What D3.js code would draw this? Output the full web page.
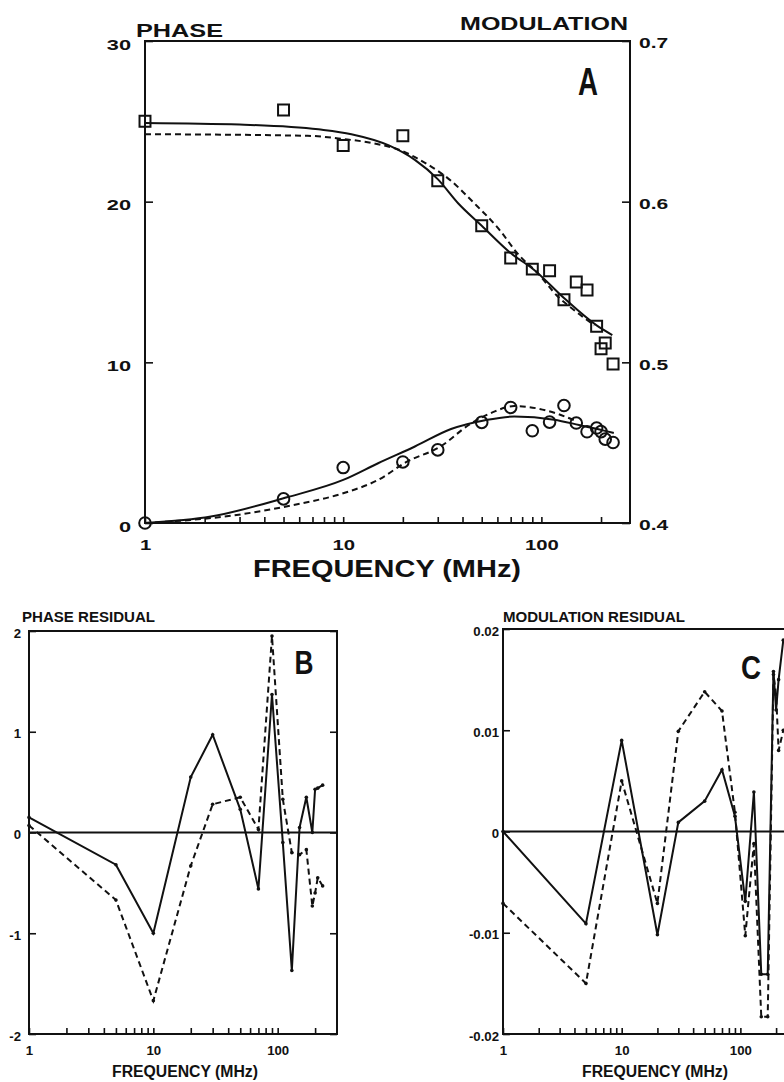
<!DOCTYPE html>
<html>
<head>
<meta charset="utf-8">
<script src="https://cdn.jsdelivr.net/npm/d3@7/dist/d3.min.js"></script>
<style>
  body { margin: 0; background: #fff; }
  svg text { font-family: "Liberation Sans", Arial, sans-serif; font-weight: bold; fill: #111; }
</style>
</head>
<body>
<div id="chart"></div>
<script>
// modulation frequencies (MHz) shared by every panel
var freq = [1, 5, 10, 20, 30, 50, 70, 90, 110, 130, 150, 170, 190, 200, 210, 230];

// panel A measured points
var phaseData = [25.0, 25.7, 23.5, 24.1, 21.3, 18.5, 16.5, 15.8, 15.7, 13.9, 15.0, 14.5, 12.25, 10.85, 11.2, 9.9];
var modData = [0.400, 0.415, 0.4345, 0.438, 0.4455, 0.4626, 0.4719, 0.4574, 0.4628, 0.4731, 0.4622, 0.4568, 0.4591, 0.4569, 0.4522, 0.4501];

// panel A fitted curves
var phaseFitF = [1, 3, 7.5, 11, 17, 23, 30, 38, 50, 70, 92, 130, 190, 228];
var phaseFit = [24.9, 24.8, 24.5, 24.2, 23.5, 22.6, 21.4, 19.9, 18.5, 16.8, 15.75, 14.0, 12.3, 11.7];
var phaseFit2F = [1, 6.6, 10, 14, 19.4, 26, 35, 45, 60, 78, 95, 121, 148, 185];
var phaseFit2 = [24.2, 24.1, 23.9, 23.65, 23.2, 22.4, 21.3, 20.0, 18.4, 16.6, 15.6, 14.1, 13.2, 12.3];
var modFitF = [1, 2.15, 5.2, 10, 15, 23, 35, 52, 73, 116, 155, 207, 232];
var modFit = [0.400, 0.404, 0.416, 0.4268, 0.4372, 0.4476, 0.4585, 0.4640, 0.4663, 0.4643, 0.4610, 0.4575, 0.4560];
var modFit2F = [1, 2.9, 5.6, 10, 15, 21, 31, 43, 57, 73, 98, 120, 150];
var modFit2 = [0.400, 0.405, 0.4112, 0.4185, 0.4268, 0.4382, 0.4476, 0.4610, 0.4690, 0.4728, 0.4710, 0.4680, 0.4635];

// panel B / C residuals (solid and dashed fits)
var phaseRes = [0.15, -0.32, -1.0, 0.55, 0.97, 0.23, -0.56, 1.37, -0.1, -1.37, 0.05, 0.35, 0.0, 0.43, 0.44, 0.47];
var phaseRes2 = [0.07, -0.67, -1.67, -0.33, 0.28, 0.35, 0.03, 1.95, 0.33, -0.2, -0.22, -0.17, -0.73, -0.6, -0.45, -0.53];
var modRes = [0, -0.0091, 0.0090, -0.0102, 0.0009, 0.0030, 0.0061, 0.0015, -0.0069, 0.0039, -0.0141, -0.0141, 0.0158, 0.0120, 0.0150, 0.0189];
var modRes2 = [-0.0071, -0.0150, 0.0050, -0.0071, 0.0099, 0.0138, 0.0119, 0.0019, -0.0103, -0.0012, -0.0183, -0.0183, 0.0155, 0.0135, 0.0080, 0.0100];

// tick labels
var xTicks = [1, 2, 3, 4, 5, 6, 7, 8, 9, 10, 20, 30, 40, 50, 60, 70, 80, 90, 100, 200];
var xLabels = [1, 10, 100];
var phaseTicks = [0, 10, 20, 30];
var modTicks = [0.4, 0.5, 0.6, 0.7];
var phaseResTicks = [-2, -1, 0, 1, 2];
var phaseResLabels = ["-2", "-1", "0", "1", "2"];
var modResTicks = [-0.02, -0.01, 0, 0.01, 0.02];
var modResLabels = ["-0.02", "-0.01", "0", "0.01", "0.02"];

var INK = "#111";

function init() {

    var svg = d3.select("#chart")
                .append("svg")
                .attr("width", 784)
                .attr("height", 1082);

    // stretch text horizontally, the original lettering is an extended face
    function widen(sel, k) {
        sel.each(function() {
            var w = this.getComputedTextLength();
            if (w > 0) {
                this.setAttribute("textLength", w * k);
                this.setAttribute("lengthAdjust", "spacingAndGlyphs");
            }
        });
    }

    function label(x, y, txt, size, len, anchor) {
        var t = svg.append("text")
            .attr("x", x)
            .attr("y", y)
            .attr("font-size", size)
            .attr("text-anchor", anchor || "start")
            .text(txt);
        if (len) t.attr("textLength", len).attr("lengthAdjust", "spacingAndGlyphs");
        return t;
    }

    function styleAxis(g, size, k) {
        g.select(".domain").remove();
        g.attr("font-family", null).attr("font-size", size);
        g.selectAll(".tick line").attr("stroke", INK).attr("stroke-width", 1.6);
        g.selectAll(".tick text").attr("fill", INK);
        widen(g.selectAll(".tick text"), k);
    }

    function box(x, y) {
        svg.append("rect")
            .attr("x", x.range()[0])
            .attr("y", y.range()[1])
            .attr("width", x.range()[1] - x.range()[0])
            .attr("height", y.range()[0] - y.range()[1])
            .attr("fill", "none")
            .attr("stroke", INK)
            .attr("stroke-width", 2);
    }

    function curve(x, y, fs, vs, dashed) {
        var pts = fs.map(function(f, i) { return [f, vs[i]]; });
        var line = d3.line()
            .x(function(d) { return x(d[0]); })
            .y(function(d) { return y(d[1]); })
            .curve(d3.curveMonotoneX);
        svg.append("path")
            .datum(pts)
            .attr("d", line)
            .attr("fill", "none")
            .attr("stroke", INK)
            .attr("stroke-width", 2)
            .attr("stroke-dasharray", dashed ? "6,4" : null);
    }

    function xAxis(x, y, pad, size, k) {
        var g = svg.append("g")
            .attr("transform", "translate(0," + y.range()[0] + ")")
            .call(d3.axisBottom(x)
                .tickValues(xTicks)
                .tickSize(-6)
                .tickSizeOuter(0)
                .tickPadding(pad)
                .tickFormat(function(d) { return xLabels.indexOf(d) >= 0 ? d : ""; }));
        styleAxis(g, size, k);
    }

    // ---------- Panel A ----------
    var xA = d3.scaleLog().domain([1, 280]).range([145, 630]);
    var yA = d3.scaleLinear().domain([0, 30]).range([523, 41]);
    var yM = d3.scaleLinear().domain([0.4, 0.7]).range([523, 41]);

    box(xA, yA);
    xAxis(xA, yA, 16, 15, 1.35);

    var gl = svg.append("g")
        .attr("transform", "translate(" + xA.range()[0] + ",0)")
        .call(d3.axisLeft(yA).tickValues(phaseTicks).tickSize(-8).tickSizeOuter(0).tickPadding(14));
    styleAxis(gl, 15, 1.45);
    gl.selectAll(".tick text").attr("dy", "0.55em");

    var gr = svg.append("g")
        .attr("transform", "translate(" + xA.range()[1] + ",0)")
        .call(d3.axisRight(yM).tickValues(modTicks).tickSize(-8).tickSizeOuter(0).tickPadding(9)
            .tickFormat(d3.format(".1f")));
    styleAxis(gr, 15, 1.4);
    gr.selectAll(".tick text").attr("dy", "0.45em");

    curve(xA, yA, phaseFitF, phaseFit, false);
    curve(xA, yA, phaseFit2F, phaseFit2, true);
    curve(xA, yM, modFitF, modFit, false);
    curve(xA, yM, modFit2F, modFit2, true);

    // squares = phase, circles = modulation
    svg.append("g").selectAll("path")
        .data(freq)
        .enter()
        .append("path")
        .attr("transform", function(d, i) { return "translate(" + xA(d) + "," + yA(phaseData[i]) + ")"; })
        .attr("d", d3.symbol().type(d3.symbolSquare).size(120))
        .attr("fill", "none")
        .attr("stroke", INK)
        .attr("stroke-width", 2);

    svg.append("g").selectAll("circle")
        .data(freq)
        .enter()
        .append("circle")
        .attr("cx", function(d) { return xA(d); })
        .attr("cy", function(d, i) { return yM(modData[i]); })
        .attr("r", 5.8)
        .attr("fill", "none")
        .attr("stroke", INK)
        .attr("stroke-width", 2);

    label(136, 37, "PHASE", 18, 87);
    label(460, 30, "MODULATION", 18, 168);
    label(588, 95, "A", 38, 20, "middle");
    label(387, 577, "FREQUENCY (MHz)", 23, 268, "middle");

    // ---------- residual panels ----------
    function residual(x, y, ticks, names, pad, solid, dashed, rightTicks) {
        box(x, y);
        xAxis(x, y, 12, 12, 1.1);

        var g = svg.append("g")
            .attr("transform", "translate(" + x.range()[0] + ",0)")
            .call(d3.axisLeft(y).tickValues(ticks).tickSize(-7).tickSizeOuter(0).tickPadding(pad)
                .tickFormat(function(d, i) { return names[i]; }));
        styleAxis(g, 12, 1.1);
        g.selectAll(".tick text").attr("dy", "0.5em");

        if (rightTicks) {
            var g2 = svg.append("g")
                .attr("transform", "translate(" + x.range()[1] + ",0)")
                .call(d3.axisRight(y).tickValues(ticks).tickSize(-7).tickSizeOuter(0).tickFormat(""));
            styleAxis(g2, 12, 1);
        }

        // zero line
        svg.append("line")
            .attr("x1", x.range()[0])
            .attr("x2", x.range()[1])
            .attr("y1", y(0))
            .attr("y2", y(0))
            .attr("stroke", INK)
            .attr("stroke-width", 2);

        curveLin(x, y, dashed, true);
        curveLin(x, y, solid, false);
    }

    function curveLin(x, y, vs, dashed) {
        var line = d3.line()
            .x(function(d, i) { return x(freq[i]); })
            .y(function(d) { return y(d); });
        svg.append("path")
            .datum(vs)
            .attr("d", line)
            .attr("fill", "none")
            .attr("stroke", INK)
            .attr("stroke-width", 2)
            .attr("stroke-linejoin", "miter")
            .attr("stroke-dasharray", dashed ? "6,4" : null);
        svg.append("g").selectAll("circle")
            .data(vs)
            .enter()
            .append("circle")
            .attr("cx", function(d, i) { return x(freq[i]); })
            .attr("cy", function(d) { return y(d); })
            .attr("r", 1.8)
            .attr("fill", INK);
    }

    var xB = d3.scaleLog().domain([1, 300]).range([29, 337]);
    var yB = d3.scaleLinear().domain([-2, 2]).range([1034, 631]);
    residual(xB, yB, phaseResTicks, phaseResLabels, 8, phaseRes, phaseRes2, true);
    label(22, 622, "PHASE RESIDUAL", 14.5, 133);
    label(304, 674, "B", 34, 19, "middle");
    label(185, 1077, "FREQUENCY (MHz)", 16, 146, "middle");

    var xC = d3.scaleLog().domain([1, 300]).range([503, 797]);
    var yC = d3.scaleLinear().domain([-0.02, 0.02]).range([1034, 629]);
    residual(xC, yC, modResTicks, modResLabels, 4, modRes, modRes2, false);
    label(503, 622, "MODULATION RESIDUAL", 14.5, 182);
    label(751, 679, "C", 34, 20, "middle");
    label(655, 1077, "FREQUENCY (MHz)", 16, 146, "middle");
}

window.onload = init;
</script>
</body>
</html>
